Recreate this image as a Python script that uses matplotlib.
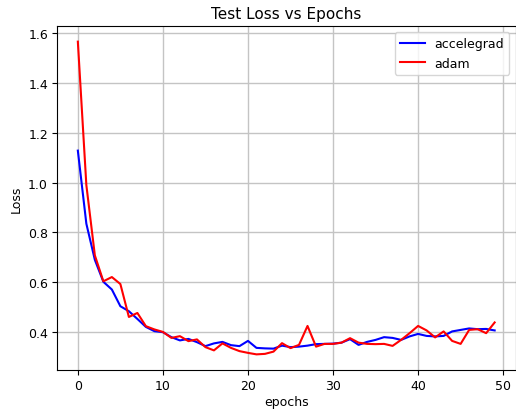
import matplotlib
matplotlib.use("Agg")
import matplotlib.pyplot as plt

epochs = list(range(50))
accelegrad = [1.128, 0.835, 0.69, 0.602, 0.571, 0.504, 0.484, 0.453, 0.421, 0.404,
              0.400, 0.380, 0.367, 0.373, 0.360, 0.344, 0.355, 0.361, 0.348, 0.344,
              0.365, 0.337, 0.335, 0.334, 0.346, 0.340, 0.342, 0.346, 0.352, 0.353,
              0.354, 0.358, 0.372, 0.349, 0.361, 0.369, 0.380, 0.377, 0.369, 0.383,
              0.393, 0.385, 0.383, 0.385, 0.403, 0.409, 0.415, 0.412, 0.413, 0.407]
adam = [1.565, 0.990, 0.708, 0.604, 0.621, 0.593, 0.461, 0.477, 0.424, 0.411,
        0.401, 0.377, 0.384, 0.364, 0.371, 0.340, 0.327, 0.355, 0.337, 0.324,
        0.317, 0.311, 0.313, 0.322, 0.356, 0.336, 0.349, 0.425, 0.342, 0.353,
        0.353, 0.358, 0.376, 0.358, 0.353, 0.352, 0.353, 0.345, 0.369, 0.396,
        0.425, 0.407, 0.379, 0.403, 0.365, 0.353, 0.409, 0.412, 0.396, 0.439]

fig = plt.figure(figsize=(5.16, 4.10), dpi=100)
ax = fig.add_axes([57/516, 39/410, 458.5/516, 344/410])
ax.plot(epochs, accelegrad, color='b', lw=1.5, label='accelegrad')
ax.plot(epochs, adam, color='r', lw=1.5, label='adam')
ax.set_title('Test Loss vs Epochs', fontsize=11)
ax.set_xlabel('epochs', fontsize=9, labelpad=2)
ax.set_ylabel('Loss', fontsize=9)
ax.tick_params(labelsize=9, pad=3)
ax.set_xticks([0, 10, 20, 30, 40, 50])
ax.grid(True, color='#c4c4c4', lw=1.0)
ax.legend(loc='upper right', fontsize=9)
fig.savefig('out.png', dpi=100)
